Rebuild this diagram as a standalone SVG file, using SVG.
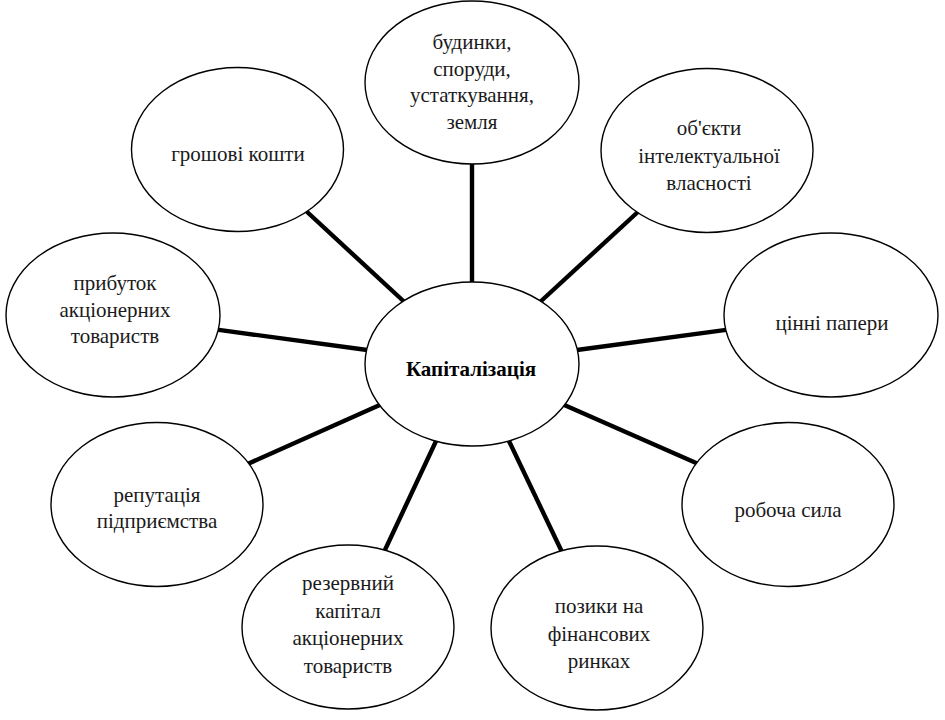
<svg xmlns="http://www.w3.org/2000/svg" width="945" height="720" viewBox="0 0 945 720">
<style>
.n ellipse{fill:#fff;stroke:#000;stroke-width:1.4}
text{font-family:'Liberation Serif','DejaVu Serif','Times New Roman',serif;font-size:21px;fill:#1a1a1a;text-anchor:middle}
.b{font-weight:bold;fill:#000}
#connectors line{stroke:#000;stroke-width:4.4;stroke-linecap:butt}
</style>
<rect width="945" height="720" fill="#fff"/>
<g id="connectors">
<line x1="472" y1="162" x2="472" y2="285"/>
<line x1="305" y1="210" x2="405.5" y2="303"/>
<line x1="640" y1="210" x2="539" y2="303"/>
<line x1="217" y1="329.6" x2="369" y2="350.3"/>
<line x1="728" y1="329.6" x2="575" y2="350.3"/>
<line x1="247" y1="464.3" x2="382" y2="404"/>
<line x1="699" y1="464.3" x2="562" y2="404"/>
<line x1="384" y1="552" x2="437" y2="439"/>
<line x1="562" y1="552" x2="508" y2="439"/>
</g>
<g id="center" class="n">
<ellipse cx="472" cy="364" rx="107" ry="82"/>
<text class="b" x="471" y="376" font-family="Liberation Serif, serif">Капіталізація</text>
</g>
<g id="node-buildings" class="n">
<ellipse cx="472" cy="82.5" rx="107" ry="81.5"/>
<text x="472" y="49">будинки,</text>
<text x="472" y="75.5">споруди,</text>
<text x="472" y="102">устаткування,</text>
<text x="472" y="128.5">земля</text>
</g>
<g id="node-money" class="n">
<ellipse cx="237.5" cy="149.5" rx="106" ry="82"/>
<text x="238" y="161">грошові кошти</text>
</g>
<g id="node-ip" class="n">
<ellipse cx="707" cy="150.5" rx="106" ry="82"/>
<text x="709" y="135">об'єкти</text>
<text x="709" y="163">інтелектуальної</text>
<text x="709" y="190">власності</text>
</g>
<g id="node-profit" class="n">
<ellipse cx="113" cy="315" rx="107" ry="82"/>
<text x="115" y="290">прибуток</text>
<text x="115" y="316.5">акціонерних</text>
<text x="115" y="343">товариств</text>
</g>
<g id="node-securities" class="n">
<ellipse cx="831" cy="315" rx="107" ry="82"/>
<text x="832" y="330">цінні папери</text>
</g>
<g id="node-reputation" class="n">
<ellipse cx="157" cy="504.5" rx="106" ry="82"/>
<text x="157" y="501.5">репутація</text>
<text x="157" y="528">підприємства</text>
</g>
<g id="node-labour" class="n">
<ellipse cx="788" cy="504.5" rx="106" ry="82"/>
<text x="788" y="517">робоча сила</text>
</g>
<g id="node-reserve" class="n">
<ellipse cx="348" cy="627" rx="106" ry="82"/>
<text x="348" y="590">резервний</text>
<text x="348" y="618">капітал</text>
<text x="348" y="645">акціонерних</text>
<text x="348" y="673">товариств</text>
</g>
<g id="node-loans" class="n">
<ellipse cx="597" cy="628" rx="106" ry="82"/>
<text x="599" y="613">позики на</text>
<text x="599" y="641">фінансових</text>
<text x="599" y="668">ринках</text>
</g>
</svg>
